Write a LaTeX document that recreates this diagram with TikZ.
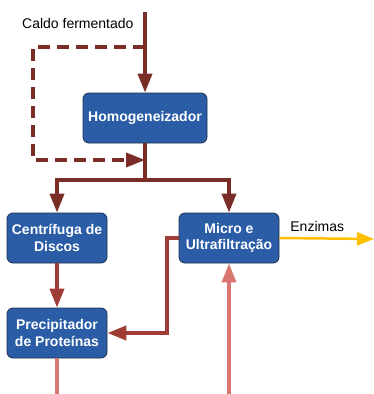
\documentclass[tikz,border=0pt]{standalone}
\usepackage{fontspec}
\setmainfont{Liberation Sans}
\usetikzlibrary{arrows.meta,positioning}

\definecolor{boxblue}{HTML}{2B5DA6}
\definecolor{boxedge}{HTML}{1C2F4F}
\definecolor{darkbrown}{HTML}{7A2C26}
\definecolor{midred}{HTML}{A03C36}
\definecolor{lightred}{HTML}{D8766F}
\definecolor{gold}{HTML}{FFC000}

\tikzset{
  unit/.style={draw=boxedge,line width=0.8pt,fill=boxblue,rounded corners=6pt,
    text=white,font=\fontsize{14}{16.5}\selectfont\bfseries,align=center,
    minimum width=100pt,minimum height=50pt,inner sep=2pt},
  tip/.style={-{Triangle[length=19pt,width=14pt]}},
  mainflow/.style={draw=darkbrown,line width=3.8pt},
  sideflow/.style={draw=midred,line width=3.8pt},
  inflow/.style={draw=lightred,line width=3.6pt},
  recycle/.style={draw=darkbrown,line width=3.6pt,dash pattern=on 12pt off 7pt},
}

\begin{document}
\begin{tikzpicture}[x=1pt,y=-1pt]
  \useasboundingbox (0,0) rectangle (374,394);

  \node[unit,minimum width=124pt] (homog) at (145,118) {Homogeneizador};
  \node[unit] (centri) at (57,238) {Centrífuga de\\Discos};
  \node[unit] (micro) at (229,238) {Micro e\\Ultrafiltração};
  \node[unit] (precip) at (57,333) {Precipitador\\de Proteínas};

  \coordinate (feed) at (145,12);
  \coordinate (split) at (145,47);
  \coordinate (dleft) at (33,160);
  \coordinate (merge) at (145,160);
  \coordinate (fork) at (145,180);
  \coordinate (enzout) at (374,239);
  \coordinate (botin) at (229,394);
  \coordinate (botout) at (57,394);

  \node[font=\fontsize{14}{16}\selectfont,left=8pt of feed,yshift=-11pt] (caldo) {Caldo fermentado};

  \draw[mainflow,tip] (feed) -- (homog);
  \draw[recycle,tip] (split) -| (dleft) -- (merge);
  \draw[mainflow] (homog) -- (fork);
  \draw[mainflow,tip] (fork) -| (centri);
  \draw[mainflow,tip] (fork) -| (micro);

  \draw[sideflow,tip] (centri) -- (precip);
  \draw[sideflow,tip] (micro.west) -- ++(-12,0) |- (precip.east);

  \draw[draw=gold,line width=2.5pt,-{Triangle[length=17pt,width=13pt]}] (micro.east) -- node[pos=0.4,above=2pt,font=\fontsize{14}{16}\selectfont] {Enzimas} (enzout);

  \draw[inflow,tip] (botin) -- (micro);
  \draw[inflow] (precip) -- (botout);
\end{tikzpicture}
\end{document}
